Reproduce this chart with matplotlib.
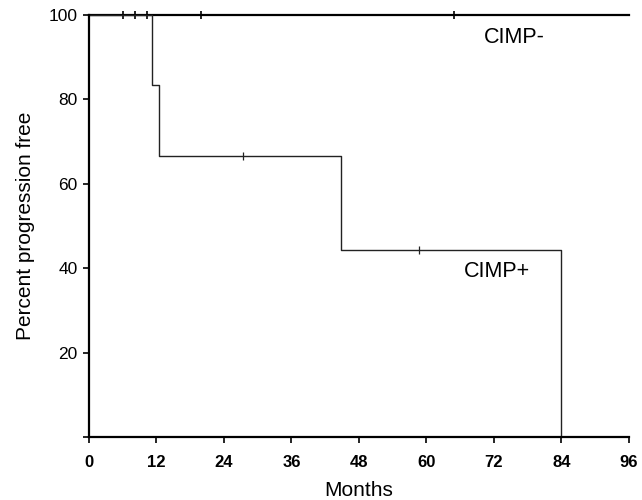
import matplotlib
matplotlib.use("Agg")
import matplotlib.pyplot as plt

plt.rcParams['font.family'] = ['Liberation Sans', 'DejaVu Sans']

# CIMP- : no events, censored times
neg_times = [0, 96]
neg_surv = [100, 100]
neg_censor = [6.0, 8.2, 10.4, 20.0, 64.9]

# CIMP+ : step curve
pos_times = [0, 11.2, 12.4, 44.8, 84.0]
pos_surv = [100, 83.3, 66.7, 44.4, 0]
pos_censor_t = [27.4, 58.7]
pos_censor_s = [66.7, 44.4]

xticks = [0, 12, 24, 36, 48, 60, 72, 84, 96]
yticks = [20, 40, 60, 80, 100]

fig = plt.figure(figsize=(6.42, 5.0), dpi=100)
ax = fig.add_axes([0.1386, 0.126, 0.841, 0.844])

ax.plot(neg_times, neg_surv, color='black', lw=1.6, clip_on=False)
ax.plot(neg_censor, [100] * len(neg_censor), ls='none', marker='|', ms=6,
        mew=1.2, color='black', clip_on=False)

ax.step(pos_times, pos_surv, where='post', color='#222222', lw=1.0, clip_on=False)
ax.plot(pos_censor_t, pos_censor_s, ls='none', marker='|', ms=6, mew=0.9,
        color='#222222')

ax.text(75.7, 94.7, 'CIMP-', fontsize=15.5, ha='center', va='center')
ax.text(72.6, 39.1, 'CIMP+', fontsize=15.5, ha='center', va='center')

ax.set_xlim(0, 96)
ax.set_ylim(0, 100)
ax.set_xticks(xticks)
ax.set_xticklabels([str(t) for t in xticks], fontweight='bold')
ax.set_yticks([0] + yticks)
ax.set_yticklabels([''] + [str(t) for t in yticks])
ax.tick_params(axis='both', direction='out', length=4, width=1.2)
ax.tick_params(axis='x', pad=9, labelsize=12)
ax.tick_params(axis='y', pad=4, labelsize=12.5)

for s in ['top', 'right']:
    ax.spines[s].set_visible(False)
for s in ['left', 'bottom']:
    ax.spines[s].set_linewidth(1.6)

ax.set_xlabel('Months', fontsize=15, labelpad=8)
ax.set_ylabel('Percent progression free', fontsize=15, labelpad=10)

fig.savefig('out.png', dpi=100)
